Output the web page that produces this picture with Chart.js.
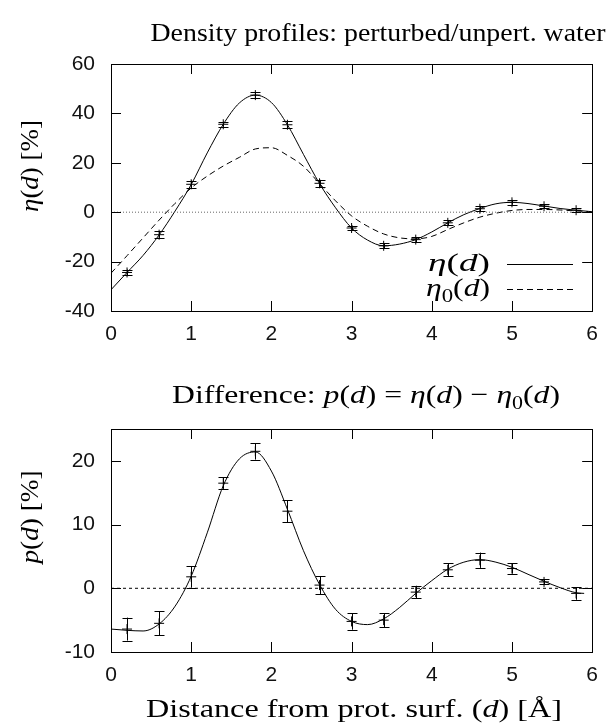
<!DOCTYPE html>
<html lang="en">
<head>
<meta charset="UTF-8">
<title>Density profiles</title>
<script src="https://cdn.jsdelivr.net/npm/chart.js"></script>
<style>
  body { margin: 0; background: #fff; }
  .janela { position: relative; width: 609px; height: 725px; overflow: hidden; }
  #topo { position: absolute; left: 0; top: 0; }
  #baixo { position: absolute; left: 0; top: 360px; }
</style>
</head>
<body>
<div class="janela">
  <canvas id="topo" width="609" height="360"></canvas>
  <canvas id="baixo" width="609" height="365"></canvas>
</div>

<script>
// pontos medidos (com barras de erro)
const dPts   = [0.2, 0.6, 1.0, 1.4, 1.8, 2.2, 2.6, 3.0, 3.4, 3.8, 4.2, 4.6, 5.0, 5.4, 5.8];
const etaPts = [-24.4, -9.1, 11.3, 35.6, 47.4, 35.4, 11.7, -6.4, -13.6, -11.1, -4.3, 1.4, 4.0, 2.4, 0.8];
const etaErr = [1.2, 1.3, 1.5, 1.0, 1.2, 1.5, 1.4, 1.0, 1.0, 1.0, 1.0, 1.0, 1.0, 0.8, 0.8];
const pPts   = [-6.4, -5.5, 1.8, 16.5, 21.5, 12.1, 0.5, -5.2, -5.0, -0.6, 2.9, 4.4, 3.1, 1.0, -0.8];
const pErr   = [1.8, 1.9, 1.7, 0.9, 1.3, 1.7, 1.4, 1.3, 1.1, 1.0, 1.0, 1.2, 0.8, 0.4, 1.0];

// curvas suaves
const dCurve    = [0.0, 0.2, 0.4, 0.6, 0.8, 1.0, 1.2, 1.4, 1.6, 1.8, 2.0, 2.2, 2.4, 2.6, 2.8, 3.0,
                   3.2, 3.4, 3.6, 3.8, 4.0, 4.2, 4.4, 4.6, 4.8, 5.0, 5.2, 5.4, 5.6, 5.8, 6.0];
const etaCurve  = [-31.4, -24.4, -17.5, -9.2, 0.5, 11.2, 24.0, 35.6, 44.2, 47.4, 44.4, 35.4, 23.4, 11.6, 1.8, -6.4,
                   -11.3, -13.6, -12.9, -11.1, -8.0, -4.3, -1.0, 1.5, 3.4, 4.0, 3.5, 2.5, 1.5, 0.8, 0.2];
const eta0Curve = [-24.7, -17.6, -10.4, -3.2, 3.6, 9.8, 14.6, 18.7, 22.2, 25.6, 26.1, 23.0, 18.6, 11.6, 4.6, -1.5,
                   -5.7, -8.8, -10.4, -10.8, -9.8, -7.0, -4.3, -2.0, -0.4, 0.7, 1.1, 1.1, 0.9, 0.5, 0.2];
const dCurveP   = [0.0, 0.2, 0.4, 0.6, 0.8, 1.0, 1.2, 1.4, 1.6, 1.8, 2.0, 2.2, 2.4, 2.6, 2.8, 3.0,
                   3.2, 3.4, 3.6, 3.8, 4.0, 4.2, 4.4, 4.6, 4.8, 5.0, 5.2, 5.4, 5.6, 5.8, 5.9];
const pCurve    = [-6.4, -6.6, -6.7, -5.6, -2.8, 1.9, 8.7, 16.1, 20.3, 21.4, 18.4, 12.4, 5.9, 0.6, -3.3, -5.2,
                   -5.7, -4.8, -3.0, -0.8, 1.2, 3.0, 4.1, 4.5, 4.1, 3.3, 2.2, 1.1, 0.1, -0.7, -0.8];

// ticks
const xTicks   = [0, 1, 2, 3, 4, 5, 6];
const etaTicks = [-40, -20, 0, 20, 40, 60];
const pTicks   = [-10, 0, 10, 20];

// textos ([texto, estilo]: '' normal, 'i' italico, 's' subscrito)
const titulo1  = [['Density profiles: perturbed/unpert. water', '']];
const titulo2  = [['Difference: ', ''], ['p', 'i'], ['(', ''], ['d', 'i'], [') = ', ''], ['η', 'i'], ['(', ''], ['d', 'i'],
                  [') − ', ''], ['η', 'i'], ['0', 's'], ['(', ''], ['d', 'i'], [')', '']];
const eixoX    = [['Distance from prot. surf. (', ''], ['d', 'i'], [') [Å]', '']];
const eixoY1   = [['η', 'i'], ['(', ''], ['d', 'i'], [') [%]', '']];
const eixoY2   = [['p', 'i'], ['(', ''], ['d', 'i'], [') [%]', '']];
const leg1     = [['η', 'i'], ['(', ''], ['d', 'i'], [')', '']];
const leg2     = [['η', 'i'], ['0', 's'], ['(', ''], ['d', 'i'], [')', '']];

Chart.defaults.font.family = 'Liberation Sans';
Chart.defaults.color = '#000';

function xy(xs, ys) {
  return xs.map((v, i) => ({ x: v, y: ys[i] }));
}

// texto com partes italicas/subscritas; 'alvo' estica na horizontal ate essa largura
function desenhaRico(ctx, partes, x, y, tam, alinh, alvo) {
  const fonte = p => (p[1] === 'i' ? 'italic ' : '') + (p[1] === 's' ? Math.round(tam * 0.7) : tam) + 'px "Liberation Serif"';
  let larg = 0;
  partes.forEach(p => { ctx.font = fonte(p); larg += ctx.measureText(p[0]).width; });
  const sx = alvo ? alvo / larg : 1;
  const total = larg * sx;
  const x0 = alinh === 'center' ? x - total / 2 : (alinh === 'right' ? x - total : x);
  ctx.save();
  ctx.translate(x0, y);
  ctx.scale(sx, 1);
  ctx.textAlign = 'left';
  ctx.textBaseline = 'alphabetic';
  ctx.fillStyle = '#000';
  let cx = 0;
  partes.forEach(p => {
    ctx.font = fonte(p);
    ctx.fillText(p[0], cx, p[1] === 's' ? tam * 0.22 : 0);
    cx += ctx.measureText(p[0]).width;
  });
  ctx.restore();
}

// moldura, marcas internas e barras de erro
function moldura(yTicks, pts, vals, errs) {
  return {
    id: 'moldura',
    afterDatasetsDraw(chart) {
      const ctx = chart.ctx;
      const a = chart.chartArea;
      const xs = chart.scales.x, ys = chart.scales.y;
      ctx.save();
      ctx.strokeStyle = '#000';
      ctx.lineWidth = 1;
      ctx.strokeRect(Math.round(a.left) + 0.5, Math.round(a.top) + 0.5, Math.round(a.right - a.left), Math.round(a.bottom - a.top));
      ctx.beginPath();
      xTicks.forEach(v => {
        const px = Math.round(xs.getPixelForValue(v)) + 0.5;
        ctx.moveTo(px, a.bottom); ctx.lineTo(px, a.bottom - 10);
        ctx.moveTo(px, a.top); ctx.lineTo(px, a.top + 10);
      });
      yTicks.forEach(v => {
        const py = Math.round(ys.getPixelForValue(v)) + 0.5;
        ctx.moveTo(a.left, py); ctx.lineTo(a.left + 10, py);
        ctx.moveTo(a.right, py); ctx.lineTo(a.right - 10, py);
      });
      ctx.stroke();
      // barras de erro
      ctx.beginPath();
      pts.forEach((d, i) => {
        const px = Math.round(xs.getPixelForValue(d)) + 0.5;
        const y1 = ys.getPixelForValue(vals[i] - errs[i]);
        const y2 = ys.getPixelForValue(vals[i] + errs[i]);
        ctx.moveTo(px, y1); ctx.lineTo(px, y2);
        ctx.moveTo(px - 5, Math.round(y1) + 0.5); ctx.lineTo(px + 5, Math.round(y1) + 0.5);
        ctx.moveTo(px - 5, Math.round(y2) + 0.5); ctx.lineTo(px + 5, Math.round(y2) + 0.5);
      });
      ctx.stroke();
      ctx.restore();
    }
  };
}

function opcoes(yMin, yMax, yTicks, topo, direita, alturaX) {
  return {
    responsive: false,
    animation: false,
    events: [],
    layout: { padding: { left: 0, right: direita, top: topo, bottom: 0 } },
    plugins: { legend: { display: false }, tooltip: { enabled: false } },
    scales: {
      x: {
        type: 'linear', min: 0, max: 6,
        afterBuildTicks: s => { s.ticks = xTicks.map(v => ({ value: v })); },
        afterFit: s => { s.height = alturaX; },
        grid: { display: false, drawTicks: false },
        border: { display: false },
        ticks: { padding: 11, autoSkip: false, maxRotation: 0, color: '#111', font: { size: 21 } }
      },
      y: {
        type: 'linear', min: yMin, max: yMax,
        afterBuildTicks: s => { s.ticks = yTicks.map(v => ({ value: v })); },
        afterFit: s => { s.width = 111; },
        grid: { display: false, drawTicks: false },
        border: { display: false },
        ticks: { padding: 16, autoSkip: false, color: '#111', font: { size: 21 } }
      }
    }
  };
}

// grafico de cima
const topo = new Chart(document.getElementById('topo'), {
  type: 'line',
  data: {
    datasets: [
      { data: [{ x: 0, y: 0 }, { x: 6, y: 0 }], borderColor: '#666', borderWidth: 1, borderDash: [1, 2], pointRadius: 0 },
      { data: xy(dCurve, eta0Curve), borderColor: '#000', borderWidth: 1, borderDash: [6, 4], pointRadius: 0, cubicInterpolationMode: 'monotone' },
      { data: xy(dCurve, etaCurve), borderColor: '#000', borderWidth: 1, pointRadius: 0, cubicInterpolationMode: 'monotone' },
      { data: xy(dPts, etaPts), showLine: false, pointStyle: 'cross', pointRadius: 5, borderColor: '#000', borderWidth: 1 }
    ]
  },
  options: opcoes(-40, 60, etaTicks, 64, 7, 49),
  plugins: [moldura(etaTicks, dPts, etaPts, etaErr), {
    id: 'textos1',
    afterDraw(chart) {
      const ctx = chart.ctx;
      desenhaRico(ctx, titulo1, 378, 41, 26, 'center', 455);
      ctx.save();
      ctx.translate(38, 166);
      ctx.rotate(-Math.PI / 2);
      desenhaRico(ctx, eixoY1, 0, 0, 26, 'center', 92);
      ctx.restore();
      // legenda
      desenhaRico(ctx, leg1, 490, 271, 25, 'right', 62);
      desenhaRico(ctx, leg2, 490, 296, 25, 'right', 64);
      ctx.save();
      ctx.strokeStyle = '#000';
      ctx.lineWidth = 1;
      ctx.beginPath(); ctx.moveTo(507, 264.5); ctx.lineTo(573, 264.5); ctx.stroke();
      ctx.setLineDash([6, 4]);
      ctx.beginPath(); ctx.moveTo(507, 289.5); ctx.lineTo(573, 289.5); ctx.stroke();
      ctx.restore();
    }
  }]
});

// grafico de baixo
const baixo = new Chart(document.getElementById('baixo'), {
  type: 'line',
  data: {
    datasets: [
      { data: [{ x: 0, y: 0 }, { x: 6, y: 0 }], borderColor: '#000', borderWidth: 1, borderDash: [3, 3], pointRadius: 0 },
      { data: xy(dCurveP, pCurve), borderColor: '#000', borderWidth: 1, pointRadius: 0, cubicInterpolationMode: 'monotone' },
      { data: xy(dPts, pPts), showLine: false, pointStyle: 'cross', pointRadius: 5, borderColor: '#000', borderWidth: 1 }
    ]
  },
  options: opcoes(-10, 25, pTicks, 69, 8, 73),
  plugins: [moldura(pTicks, dPts, pPts, pErr), {
    id: 'textos2',
    afterDraw(chart) {
      const ctx = chart.ctx;
      desenhaRico(ctx, titulo2, 366, 43, 26, 'center', 388);
      desenhaRico(ctx, eixoX, 354, 357, 26, 'center', 416);
      ctx.save();
      ctx.translate(38, 157);
      ctx.rotate(-Math.PI / 2);
      desenhaRico(ctx, eixoY2, 0, 0, 26, 'center', 93);
      ctx.restore();
    }
  }]
});
</script>
</body>
</html>
